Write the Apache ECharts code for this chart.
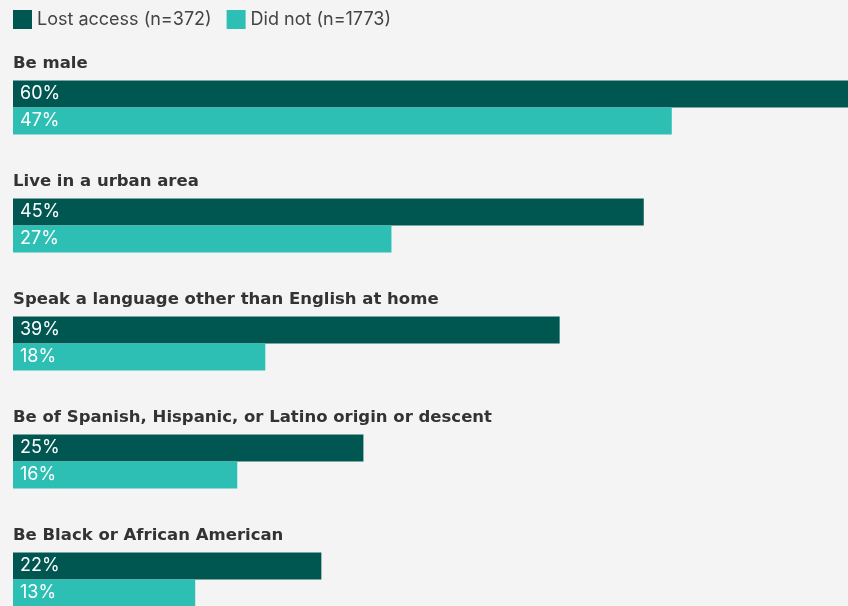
<!DOCTYPE html>
<html>
<head>
<meta charset="utf-8">
<script src="https://cdn.jsdelivr.net/npm/echarts@6/dist/echarts.min.js"></script>
<style>
  html, body { margin: 0; padding: 0; background: #f4f4f4; overflow: hidden; }
  #chart { width: 854px; height: 640px; }
</style>
</head>
<body>
<div id="chart"></div>
<script>
// Share of respondents with each characteristic, by whether they lost access
const categories = [
  'Be male',
  'Live in a urban area',
  'Speak a language other than English at home',
  'Be of Spanish, Hispanic, or Latino origin or descent',
  'Be Black or African American'
];
const lostAccess = [60, 45, 39, 25, 22];
const didNot = [47, 27, 18, 16, 13];
const seriesNames = ['Lost access (n=372)', 'Did not (n=1773)'];

const FONT = 'Inter, "Noto Sans", sans-serif';
const TITLE_FONT = '"DejaVu Sans", Inter, sans-serif';
const chart = echarts.init(document.getElementById('chart'), null, { renderer: 'canvas' });

const valueLabel = {
  show: true,
  position: 'insideLeft',
  distance: 7,
  color: '#ffffff',
  fontFamily: FONT,
  fontSize: 18,
  formatter: p => p.value + '%'
};

chart.setOption({
  backgroundColor: '#f4f4f4',
  animation: false,
  legend: {
    left: 13,
    top: 10,
    padding: 0,
    itemWidth: 19,
    itemHeight: 19,
    itemGap: 15,
    icon: 'rect',
    textStyle: { fontFamily: FONT, fontSize: 18, color: '#444444' },
    data: seriesNames
  },
  grid: { left: 13, top: 48.5, width: 841, height: 590, containLabel: false },
  xAxis: { type: 'value', min: 0, max: 60, show: false },
  yAxis: {
    type: 'category',
    inverse: true,
    data: categories,
    axisLine: { show: false },
    axisTick: { show: false },
    splitLine: { show: false },
    axisLabel: {
      inside: true,
      margin: 0,
      align: 'left',
      verticalAlign: 'middle',
      // category title sits above its pair of bars
      formatter: v => '{t|' + v + '}\n{g|}',
      rich: {
        t: {
          fontFamily: TITLE_FONT,
          fontSize: 16.5,
          fontWeight: 'bold',
          color: '#333333',
          lineHeight: 20
        },
        g: { lineHeight: 88 }
      }
    }
  },
  series: [
    {
      name: seriesNames[0],
      type: 'bar',
      data: lostAccess,
      barWidth: 27,
      barGap: '0%',
      itemStyle: { color: '#005751' },
      label: valueLabel
    },
    {
      name: seriesNames[1],
      type: 'bar',
      data: didNot,
      barWidth: 27,
      barGap: '0%',
      itemStyle: { color: '#2ebfb4' },
      label: valueLabel
    }
  ]
});
</script>
</body>
</html>
